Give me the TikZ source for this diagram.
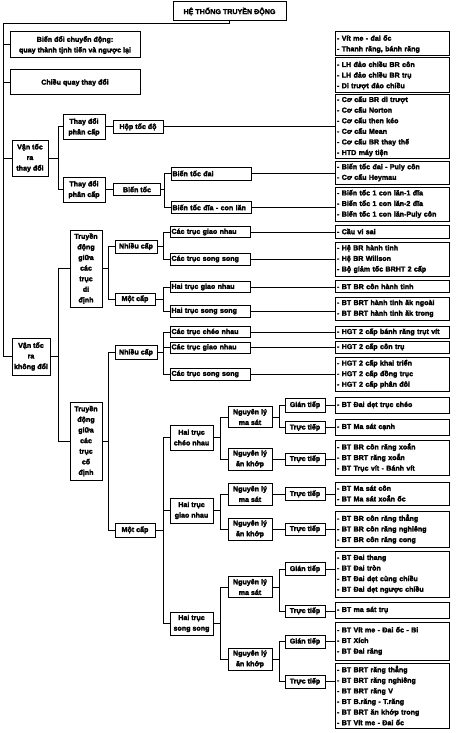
\documentclass[tikz,border=0pt]{standalone}
\usepackage{fontspec}
\setmainfont{Liberation Sans}[BoldFeatures={FakeBold=2.6}]

\begin{document}
\begin{tikzpicture}[
  x=1pt, y=-1pt,
  box/.style={draw, line width=1pt, fill=white, inner xsep=2pt, inner ysep=0.5pt,
    align=center, font=\bfseries\fontsize{7.1}{10.6}\selectfont},
  wide/.style={box, minimum width=130, minimum height=25},
  speed/.style={box, inner xsep=1pt, minimum width=36},
  step2/.style={box, minimum width=42, minimum height=24},
  group/.style={box, inner xsep=1.5pt, text width=77, align=left, minimum height=12},
  pair/.style={box, inner xsep=1pt, minimum width=43, minimum height=24},
  rule/.style={box, inner xsep=1pt, minimum width=44, minimum height=21},
  kind/.style={box, minimum width=40, minimum height=13},
  leaf/.style={box, text width=110, inner xsep=2pt, align=left},
  link/.style={line width=1pt},
  elbow/.style={to path={-- ++(#1,0) |- (\tikztotarget)}}
]
  \useasboundingbox (0,0) rectangle (465,733);

  \node[box, minimum width=113, minimum height=19] (title) at (229.5,11.5) {HỆ THỐNG TRUYỀN ĐỘNG};

  % First level
  \node[wide, minimum height=26] (move) at (75,45) {Biến đổi chuyển động:\\quay thành tịnh tiến và ngược lại};
  \node[wide] (turn) at (75,82.5) {Chiều quay thay đổi};
  \node[speed, minimum height=36] (varspd) at (30,158) {Vận tốc\\ra\\thay đổi};
  \node[speed, minimum width=38, minimum height=37] (fixspd) at (31,356.5) {Vận tốc\\ra\\không đổi};

  % Variable speed
  \node[step2] (stepA) at (84,127) {Thay đổi\\phân cấp};
  \node[box, minimum width=50, minimum height=13] (gearbox) at (138,127) {Hộp tốc độ};
  \node[step2, minimum height=25] (stepB) at (84,189.5) {Thay đổi\\phân cấp};
  \node[box, minimum width=47, minimum height=12] (varia) at (137,189.5) {Biến tốc};
  \node[group, minimum height=13] (belt) at (211,173.5) {Biến tốc đai};
  \node[group] (disc) at (211,207.5) {Biến tốc đĩa - con lăn};

  % Moving shafts
  \node[box, inner xsep=1pt, minimum width=32, minimum height=77] (moving) at (86,268.5)
    {Truyền\\động\\giữa\\các\\trục\\di\\định};
  \node[box, minimum width=42, minimum height=13] (multiA) at (136,246.5) {Nhiều cấp};
  \node[box, minimum width=40, minimum height=12] (singleA) at (135,299) {Một cấp};
  \node[group, minimum height=11] (crossA) at (210,232) {Các trục giao nhau};
  \node[group] (paraA) at (210,259) {Các trục song song};
  \node[group, minimum height=11] (crossB) at (210,287) {Hai trục giao nhau};
  \node[group] (paraB) at (210,311) {Hai trục song song};

  % Fixed shafts
  \node[box, inner xsep=1pt, minimum width=32, minimum height=78] (fixed) at (86,441)
    {Truyền\\động\\giữa\\các\\trục\\cố\\định};
  \node[box, minimum width=42, minimum height=14] (multiB) at (136,352.5) {Nhiều cấp};
  \node[group, minimum height=11] (skewC) at (210,332) {Các trục chéo nhau};
  \node[group, minimum height=11] (crossC) at (210,347.5) {Các trục giao nhau};
  \node[group] (paraC) at (210,374) {Các trục song song};
  \node[box, minimum width=40, minimum height=14] (singleB) at (135,530) {Một cấp};
  \node[pair, minimum height=25] (skew) at (191.5,437.5) {Hai trục\\chéo nhau};
  \node[pair, minimum height=25] (cross) at (191.5,510.5) {Hai trục\\giao nhau};
  \node[pair, minimum height=23] (para) at (191.5,623.5) {Hai trục\\song song};

  \node[rule] (fricA) at (250,417) {Nguyên lý\\ma sát};
  \node[rule, minimum height=22] (meshA) at (250,459) {Nguyên lý\\ăn khớp};
  \node[rule, minimum height=22] (fricB) at (250,494) {Nguyên lý\\ma sát};
  \node[rule, minimum height=22] (meshB) at (250,529) {Nguyên lý\\ăn khớp};
  \node[rule] (fricC) at (250,587) {Nguyên lý\\ma sát};
  \node[rule, minimum height=22] (meshC) at (250,659) {Nguyên lý\\ăn khớp};

  \node[kind, minimum height=14] (indA) at (305,405) {Gián tiếp};
  \node[kind, minimum height=12] (dirA) at (305,427.5) {Trực tiếp};
  \node[kind, minimum height=12] (dirB) at (305,459) {Trực tiếp};
  \node[kind] (dirC) at (305,494) {Trực tiếp};
  \node[kind, minimum height=12] (dirD) at (305,529) {Trực tiếp};
  \node[kind] (indE) at (305,569) {Gián tiếp};
  \node[kind, minimum height=12] (dirE) at (305,611) {Trực tiếp};
  \node[kind] (indF) at (305,641.5) {Gián tiếp};
  \node[kind] (dirF) at (305,681.5) {Trực tiếp};

  % Examples column
  \node[leaf, minimum height=24] (ex1) at (392,44) {- Vít me - đai ốc\\- Thanh răng, bánh răng};
  \node[leaf, minimum height=35] (ex2) at (392,75.5) {- LH đảo chiều BR côn\\- LH đảo chiều BR trụ\\- Di trượt đảo chiều};
  \node[leaf, minimum height=63] (ex3) at (392,126.5) {- Cơ cấu BR di trượt\\- Cơ cấu Norton\\- Cơ cấu then kéo\\- Cơ cấu Mean\\- Cơ cấu BR thay thế\\- HTD máy tiện};
  \node[leaf, minimum height=23] (ex4) at (392,172.5) {- Biến tốc đai - Puly côn\\- Cơ cấu Heymau};
  \node[leaf, minimum height=34] (ex5) at (392,204) {- Biến tốc 1 con lăn-1 đĩa\\- Biến tốc 1 con lăn-2 đĩa\\- Biến tốc 1 con lăn-Puly côn};
  \node[leaf, minimum height=13] (ex6) at (392,231.5) {- Cầu vi sai};
  \node[leaf, minimum height=34] (ex7) at (392,259) {- Hệ BR hành tinh\\- Hệ BR Willson\\- Bộ giảm tốc BRHT 2 cấp};
  \node[leaf, minimum height=12] (ex8) at (392,286.5) {- BT BR côn hành tinh};
  \node[leaf, minimum height=23] (ex9) at (392,308.5) {- BT BRT hành tinh ăk ngoài\\- BT BRT hành tinh ăk trong};
  \node[leaf, minimum height=12] (ex10) at (392,332) {- HGT 2 cấp bánh răng trụt vít};
  \node[leaf, minimum height=12] (ex11) at (392,347) {- HGT 2 cấp côn trụ};
  \node[leaf, minimum height=34] (ex12) at (392,374) {- HGT 2 cấp khai triển\\- HGT 2 cấp đồng trục\\- HGT 2 cấp phân đôi};
  \node[leaf, minimum height=16] (ex13) at (392,405) {- BT Đai dẹt trục chéo};
  \node[leaf, minimum height=16] (ex14) at (392,427) {- BT Ma sát cạnh};
  \node[leaf, minimum height=35] (ex15) at (392,457.5) {- BT BR côn răng xoắn\\- BT BRT răng xoắn\\- BT Trục vít - Bánh vít};
  \node[leaf, minimum height=23] (ex16) at (392,493.5) {- BT Ma sát côn\\- BT Ma sát xoắn ốc};
  \node[leaf, minimum height=36] (ex17) at (392,529) {- BT BR côn răng thẳng\\- BT BR côn răng nghiêng\\- BT BR côn răng cong};
  \node[leaf, minimum height=46] (ex18) at (392,574) {- BT Đai thang\\- BT Đai tròn\\- BT Đai dẹt cùng chiều\\- BT Đai dẹt ngược chiều};
  \node[leaf, minimum height=16] (ex19) at (392,610) {- BT ma sát trụ};
  \node[leaf, minimum height=38] (ex20) at (392,641) {- BT Vít me - Đai ốc - Bi\\- BT Xích\\- BT Đai răng};
  \node[leaf, minimum height=65] (ex21) at (392,695.5) {- BT BRT răng thẳng\\- BT BRT răng nghiêng\\- BT BRT răng V\\- BT B.răng - T.răng\\- BT BRT ăn khớp trong\\- BT Vít me - Đai ốc};

  % Trunk
  \coordinate (trunk) at (3,24);
  \draw[link] (title.south) |- (trunk) -- (trunk |- fixspd.west) -- (fixspd.west);
  \draw[link] (trunk |- move.west) -- (move.west);
  \draw[link] (trunk |- turn.west) -- (turn.west);
  \draw[link] (trunk |- varspd.west) -- (varspd.west);

  % Branches
  \draw[link] (varspd.east) to[elbow=10] (stepA.west) (varspd.east) to[elbow=10] (stepB.west);
  \draw[link] (stepA) -- (gearbox);
  \draw[link] (stepB) -- (varia);
  \draw[link] (varia.east) to[elbow=3] (belt.west) (varia.east) to[elbow=3] (disc.west);
  \draw[link] (fixspd.east) to[elbow=8] (moving.west) (fixspd.east) to[elbow=8] (fixed.west);
  \draw[link] (moving.east) to[elbow=6] (multiA.west) (moving.east) to[elbow=6] (singleA.west);
  \draw[link] (multiA.east) to[elbow=6] (crossA.west) (multiA.east) to[elbow=6] (paraA.west);
  \draw[link] (singleA.east) to[elbow=8] (crossB.west) (singleA.east) to[elbow=8] (paraB.west);
  \draw[link] (fixed.east) to[elbow=6] (multiB.west) (fixed.east) to[elbow=6] (singleB.west);
  \draw[link] (multiB.east) to[elbow=6] (skewC.west) (multiB.east) to[elbow=6] (crossC.west)
    (multiB.east) to[elbow=6] (paraC.west);
  \draw[link] (singleB.east) to[elbow=8] (skew.west) (singleB.east) to[elbow=8] (cross.west)
    (singleB.east) to[elbow=8] (para.west);
  \draw[link] (skew.east) to[elbow=7] (fricA.west) (skew.east) to[elbow=7] (meshA.west);
  \draw[link] (cross.east) to[elbow=7] (fricB.west) (cross.east) to[elbow=7] (meshB.west);
  \draw[link] (para.east) to[elbow=7] (fricC.west) (para.east) to[elbow=7] (meshC.west);
  \draw[link] (fricA.east) to[elbow=7] (indA.west) (fricA.east) to[elbow=7] (dirA.west);
  \draw[link] (meshA) -- (dirB);
  \draw[link] (fricB) -- (dirC);
  \draw[link] (meshB) -- (dirD);
  \draw[link] (fricC.east) to[elbow=7] (indE.west) (fricC.east) to[elbow=7] (dirE.west);
  \draw[link] (meshC.east) to[elbow=7] (indF.west) (meshC.east) to[elbow=7] (dirF.west);

  % Links to examples
  \draw[link] (gearbox.east) -- (gearbox.east -| ex3.west);
  \draw[link] (belt.east) -- (belt.east -| ex4.west);
  \draw[link] (disc.east) -- (disc.east -| ex5.west);
  \draw[link] (crossA.east) -- (crossA.east -| ex6.west);
  \draw[link] (paraA.east) -- (paraA.east -| ex7.west);
  \draw[link] (crossB.east) -- (crossB.east -| ex8.west);
  \draw[link] (paraB.east) -- (paraB.east -| ex9.west);
  \draw[link] (skewC.east) -- (skewC.east -| ex10.west);
  \draw[link] (crossC.east) -- (crossC.east -| ex11.west);
  \draw[link] (paraC.east) -- (paraC.east -| ex12.west);
  \draw[link] (indA.east) -- (indA.east -| ex13.west);
  \draw[link] (dirA.east) -- (dirA.east -| ex14.west);
  \draw[link] (dirB.east) -- (dirB.east -| ex15.west);
  \draw[link] (dirC.east) -- (dirC.east -| ex16.west);
  \draw[link] (dirD.east) -- (dirD.east -| ex17.west);
  \draw[link] (indE.east) -- (indE.east -| ex18.west);
  \draw[link] (dirE.east) -- (dirE.east -| ex19.west);
  \draw[link] (indF.east) -- (indF.east -| ex20.west);
  \draw[link] (dirF.east) -- (dirF.east -| ex21.west);

\end{tikzpicture}
\end{document}
